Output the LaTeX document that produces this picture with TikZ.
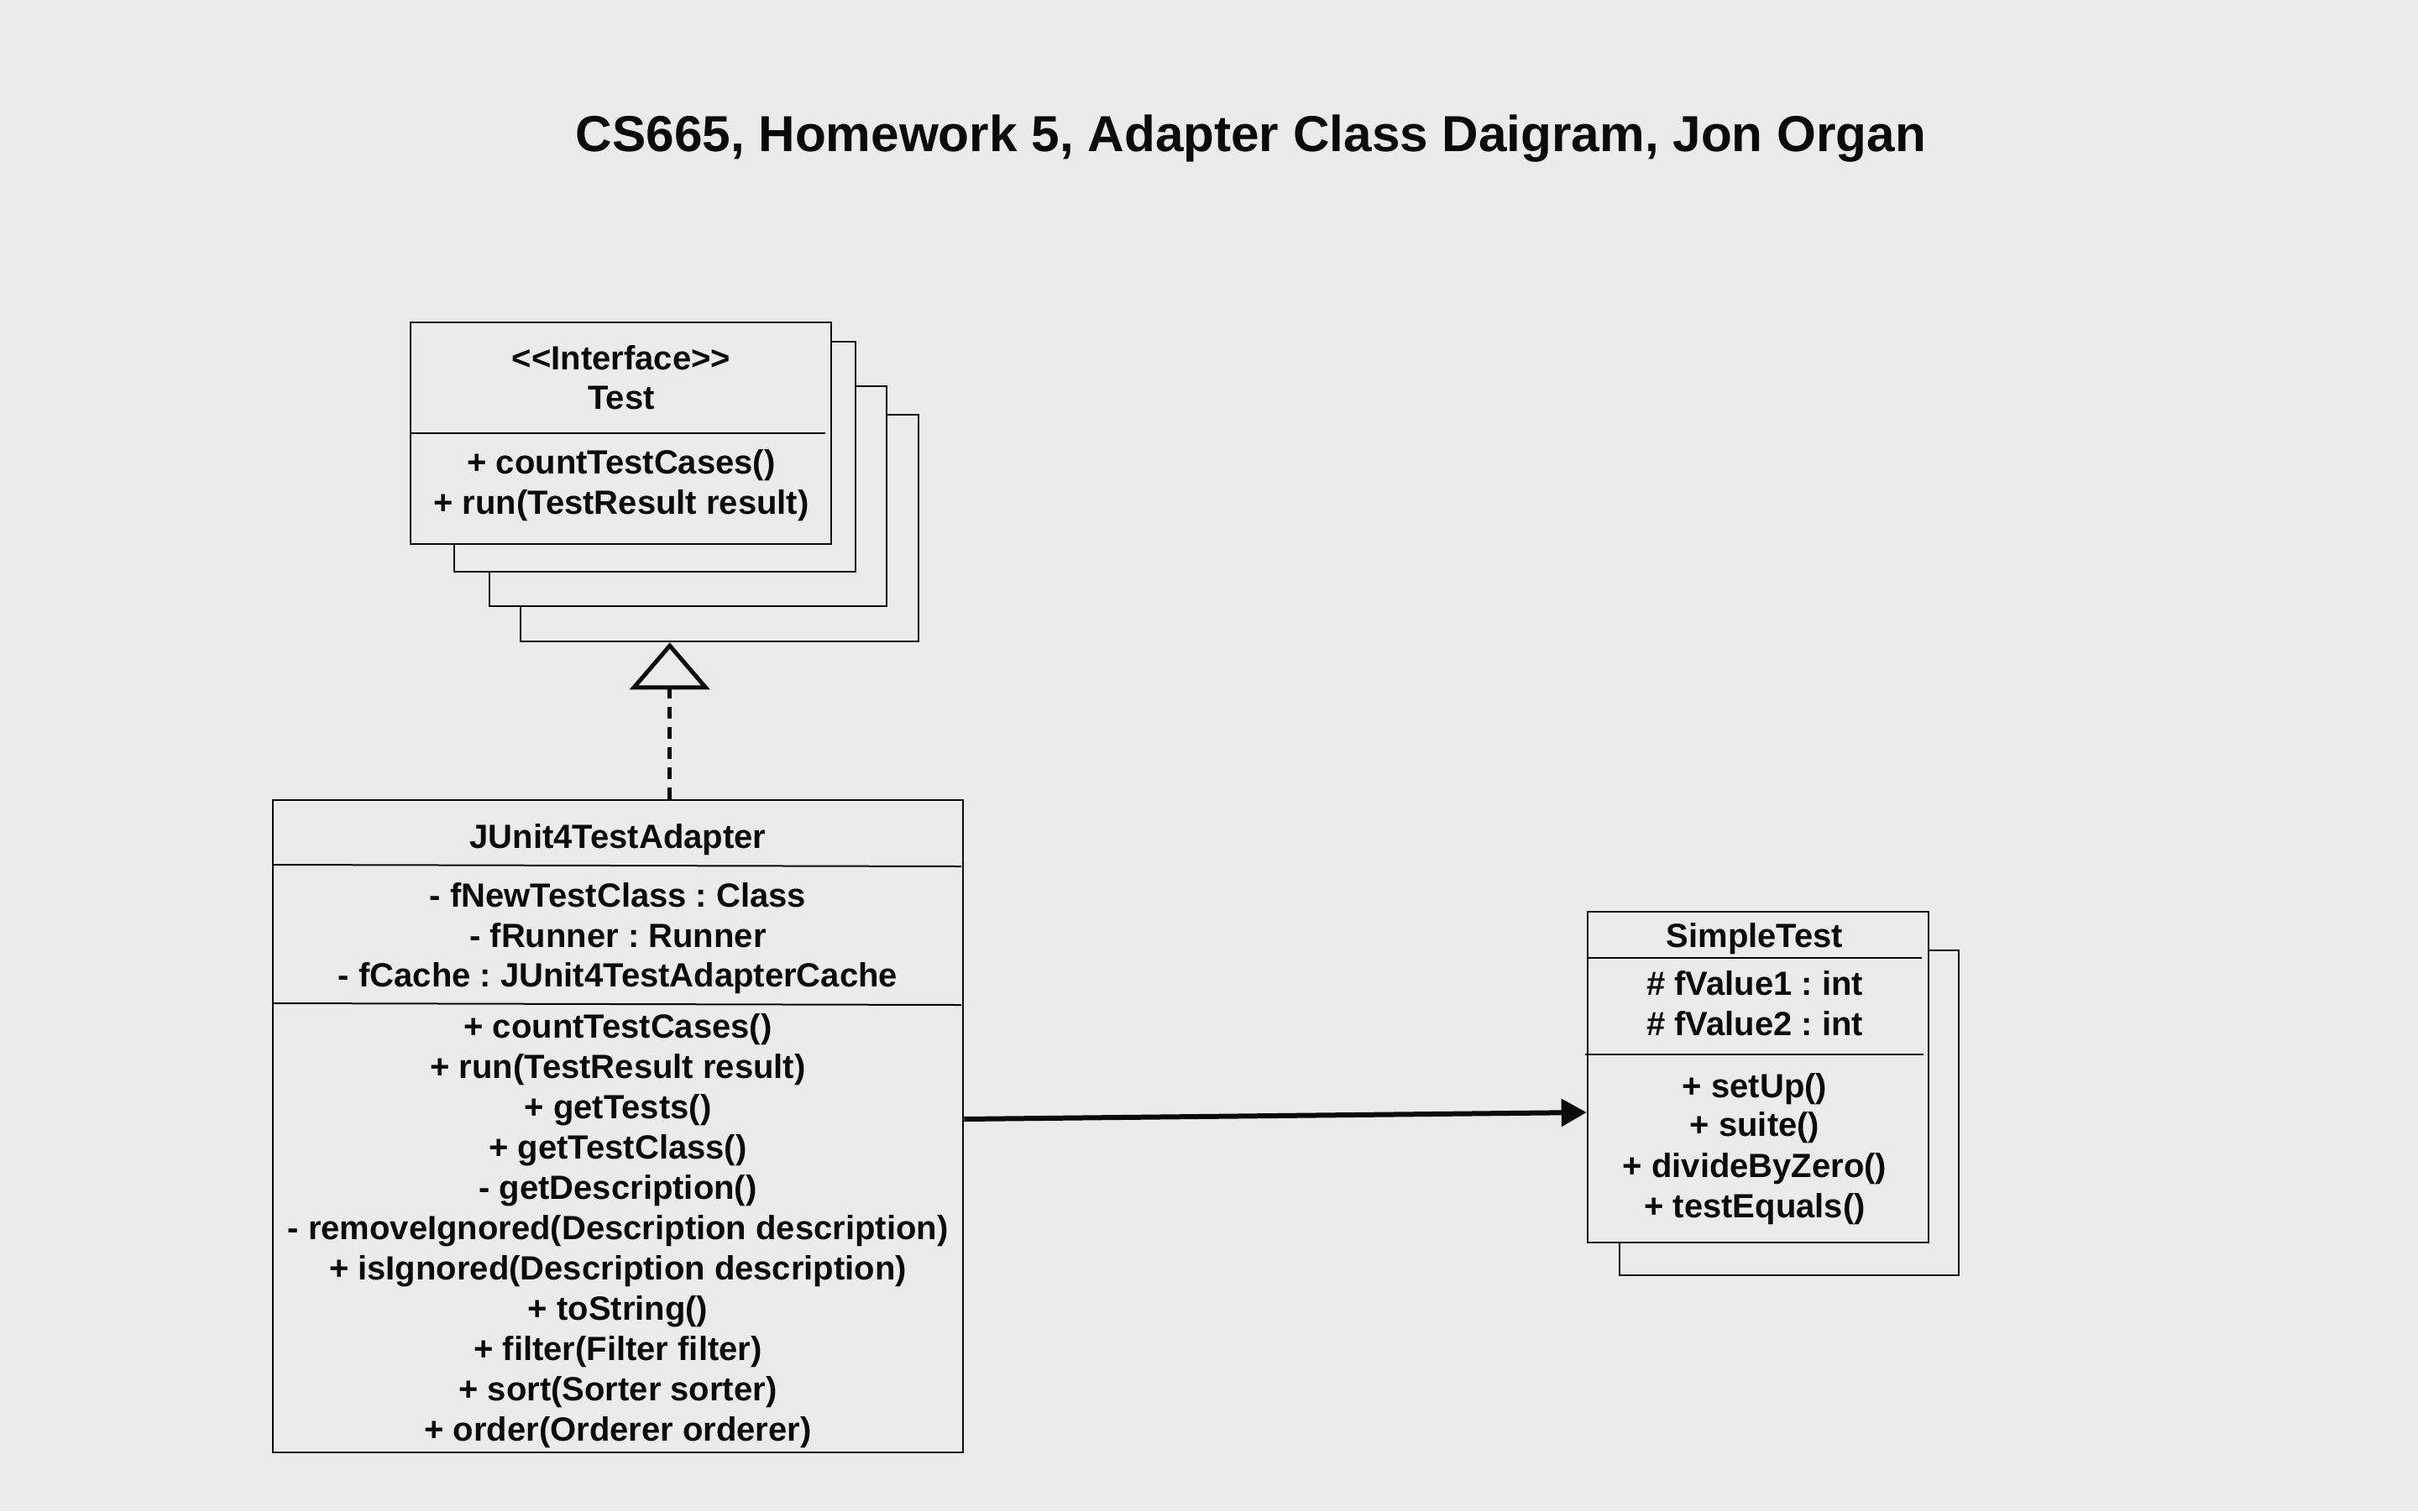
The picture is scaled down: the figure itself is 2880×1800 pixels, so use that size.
\documentclass[tikz,border=0pt]{standalone}
\usepackage{fontspec}
\setmainfont{Liberation Sans}
\usetikzlibrary{arrows.meta,calc}
\definecolor{bg}{HTML}{EBEBEB}
\definecolor{ink}{HTML}{0A0A0A}
\frenchspacing
\tikzset{
  cls/.style={draw=ink, line width=2.5pt, fill=bg, rectangle, inner sep=0pt},
  sep/.style={draw=ink, line width=2pt},
  txt/.style={anchor=base, inner sep=0pt, text=ink, font=\fontsize{40}{48}\selectfont\bfseries},
  ttl/.style={anchor=base, inner sep=0pt, text=ink, font=\fontsize{60.3}{72}\selectfont\bfseries},
  realize/.style={draw=ink, line width=5pt, dash pattern=on 14pt off 10pt,
    -{Triangle[open, length=56pt, width=95pt, line width=5pt]}},
  assoc/.style={draw=ink, line width=6pt, -{Triangle[length=30pt, width=32pt]}}
}
\begin{document}
\begin{tikzpicture}[x=1pt, y=-1pt]
\fill[bg] (0,0) rectangle (2880,1800);
\useasboundingbox (0,0) rectangle (2880,1800);

% title
\node[ttl] (title) at (1490,180) {CS665, Homework 5, Adapter Class Daigram, Jon Organ};

% Test interface stack
\node[cls, minimum width=474pt, minimum height=270pt] (b4) at (857,629) {};
\node[cls, minimum width=473pt, minimum height=262pt] (b3) at (819.5,591) {};
\node[cls, minimum width=478pt, minimum height=274pt] (b2) at (780,544) {};
\node[cls, minimum width=501pt, minimum height=264pt] (test) at (739.5,516) {};
\draw[sep] (489,516) -- (983,516);
\node[txt] (t1) at (740,440) {{<}{<}Interface{>}{>}};
\node[txt] (t2) at (740,487) {Test};
\node[txt] (t3) at (740,564) {+ countTestCases()};
\node[txt] (t4) at (740,612) {+ run(TestResult result)};

% JUnit4TestAdapter
\node[cls, minimum width=822pt, minimum height=777pt] (junit) at (736,1341.5) {};
\draw[sep] (325,1030) -- (1145,1032);
\draw[sep] (325,1195) -- (1145,1197);
\node[txt] (j0) at (736,1010) {JUnit4TestAdapter};
\node[txt] (j1) at (736,1080) {- fNewTestClass : Class};
\node[txt] (j2) at (736,1128) {- fRunner : Runner};
\node[txt] (j3) at (736,1175) {- fCache : JUnit4TestAdapterCache};
\node[txt] (m1) at (736,1236) {+ countTestCases()};
\node[txt] (m2) at (736,1284) {+ run(TestResult result)};
\node[txt] (m3) at (736,1332) {+ getTests()};
\node[txt] (m4) at (736,1380) {+ getTestClass()};
\node[txt] (m5) at (736,1428) {- getDescription()};
\node[txt] (m6) at (736,1476) {- removeIgnored(Description description)};
\node[txt] (m7) at (736,1524) {+ isIgnored(Description description)};
\node[txt] (m8) at (736,1572) {+ toString()};
\node[txt] (m9) at (736,1620) {+ filter(Filter filter)};
\node[txt] (m10) at (736,1668) {+ sort(Sorter sorter)};
\node[txt] (m11) at (736,1716) {+ order(Orderer orderer)};

% SimpleTest stack
\node[cls, minimum width=404pt, minimum height=387pt] (sback) at (2131,1325.5) {};
\node[cls, minimum width=406pt, minimum height=394pt] (st) at (2094,1283) {};
\draw[sep] (1892,1141) -- (2289,1141);
\draw[sep] (1888,1256) -- (2291,1256);
\node[txt] (s0) at (2090,1128) {SimpleTest};
\node[txt] (s1) at (2090,1185) {\# fValue1 : int};
\node[txt] (s2) at (2090,1233) {\# fValue2 : int};
\node[txt] (s3) at (2090,1307) {+ setUp()};
\node[txt] (s4) at (2090,1353) {+ suite()};
\node[txt] (s5) at (2090,1402) {+ divideByZero()};
\node[txt] (s6) at (2090,1450) {+ testEquals()};

% connectors
\path (b4.south west) ++(179,0) coordinate (ifc);
\draw[realize] (ifc |- junit.north) -- (ifc);
\draw[assoc] ([yshift=8.5pt]junit.east) -- ([yshift=-42pt]st.west);
\end{tikzpicture}
\end{document}
